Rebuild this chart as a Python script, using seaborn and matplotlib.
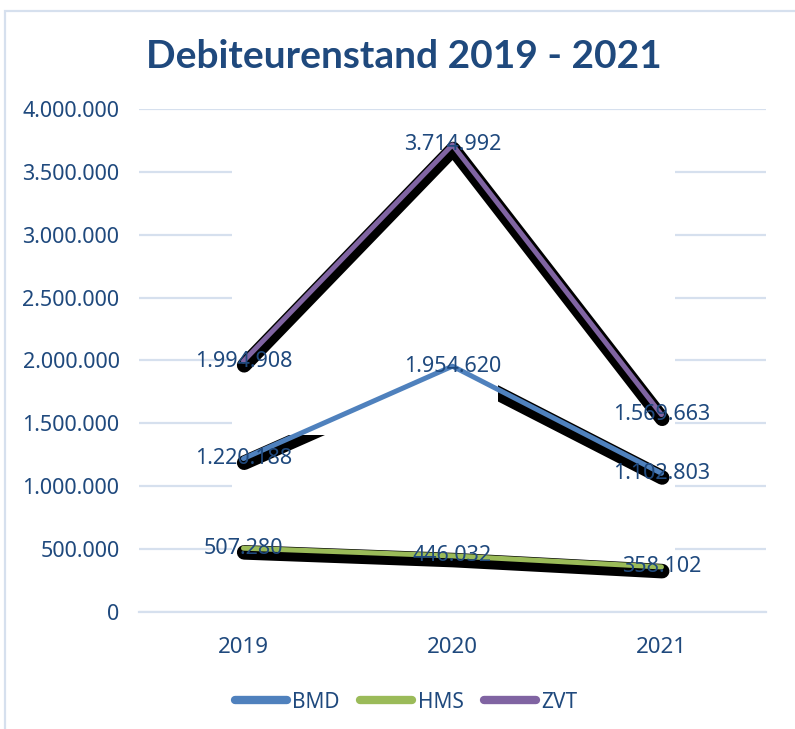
import pandas as pd
import seaborn as sns
import matplotlib.pyplot as plt
import matplotlib.transforms as mtransforms
from matplotlib.patches import Rectangle
from matplotlib.ticker import FuncFormatter

# Data
years = ["2019", "2020", "2021"]
bmd = [1220188, 1954620, 1102803]
hms = [507280, 446032, 358102]
zvt = [1994908, 3714992, 1569663]
series_names = ["BMD", "HMS", "ZVT"]
series_colors = ["#4F81BD", "#9BBB59", "#8064A2"]

df = pd.DataFrame({
    "Jaar": years * 3,
    "Bedrag": bmd + hms + zvt,
    "Systeem": [s for s in series_names for _ in years],
})

text_color = "#1F497D"
grid_color = "#D6E0EE"

sns.set_style("white")
plt.rcParams["font.family"] = ["Noto Sans", "DejaVu Sans"]

fig = plt.figure(figsize=(7.95, 7.29), dpi=100)
ax = fig.add_axes([0.1748, 0.1605, 0.7887, 0.69])

sns.lineplot(data=df, x="Jaar", y="Bedrag", hue="Systeem", hue_order=series_names,
             palette=series_colors, linewidth=3.6, sort=False, legend=True, ax=ax,
             zorder=3)
for ln in ax.lines:
    ln.set_solid_capstyle("round")

# black shadows under the lines
shadow_tr = mtransforms.offset_copy(ax.transData, fig=fig, x=0.5, y=-3.0, units="points")
for ln, name in zip(list(ax.lines[:3]), series_names):
    ax.plot(ln.get_xdata(), ln.get_ydata(), color="black", lw=10.5,
            transform=shadow_tr, solid_capstyle="round",
            zorder=1.5 if name == "BMD" else 2)

# white areas that hide gridlines / part of the BMD shadow (as in the original)
ax.add_patch(Rectangle((0.148, 0.01), 0.707, 0.975, transform=ax.transAxes,
                       facecolor="white", edgecolor="none", zorder=1))
ax.add_patch(Rectangle((0.238, 0.352), 0.335, 0.63, transform=ax.transAxes,
                       facecolor="white", edgecolor="none", zorder=1.7))

def dotted(v, pos=None):
    return f"{int(round(v)):,}".replace(",", ".")

# data labels centred on the points
for name, vals in zip(series_names, [bmd, hms, zvt]):
    for i, v in enumerate(vals):
        ax.text(i, v, dotted(v), ha="center", va="center", fontsize=15.5,
                color=text_color, zorder=5)

ax.set_ylim(0, 4000000)
ax.set_xlim(-0.5, 2.5)
ax.set_yticks(range(0, 4000001, 500000))
ax.yaxis.set_major_formatter(FuncFormatter(dotted))
ax.grid(axis="y", color=grid_color, lw=1.6, zorder=0.5)
ax.set_axisbelow(True)
for s in ["top", "right", "left"]:
    ax.spines[s].set_visible(False)
ax.spines["bottom"].set_color(grid_color)
ax.spines["bottom"].set_linewidth(1.6)
ax.set_xticks([-0.5, 0.5, 1.5, 2.5], minor=True)
ax.tick_params(axis="x", which="minor", length=6, width=1.6, color=grid_color, direction="out")
ax.tick_params(axis="x", which="major", length=0, pad=18, labelsize=16, labelcolor=text_color)
ax.tick_params(axis="y", length=0, pad=14, labelsize=15.5, labelcolor=text_color)
ax.set_xlabel("")
ax.set_ylabel("")

fig.text(0.508, 0.922, "Debiteurenstand 2019 - 2021", fontsize=28, fontweight="bold",
         color=text_color, family=["Lato", "DejaVu Sans"], ha="center", va="center")

handles, labels = ax.get_legend_handles_labels()
for h in handles:
    h.set_linewidth(6)
    h.set_solid_capstyle("round")
leg = ax.legend(handles, labels, loc="center", bbox_to_anchor=(0.511, 0.037),
                bbox_transform=fig.transFigure, ncol=3, frameon=False, fontsize=15,
                handlelength=2.5, handletextpad=0.25, columnspacing=1.0)
for t in leg.get_texts():
    t.set_color(text_color)

# chart area border
fig.patches.append(Rectangle((5 / 795, -0.2), 1.2, (729 - 11) / 729 + 0.2,
                             transform=fig.transFigure, fill=False,
                             edgecolor=grid_color, lw=1.6))

fig.savefig("out.png", dpi=100)
